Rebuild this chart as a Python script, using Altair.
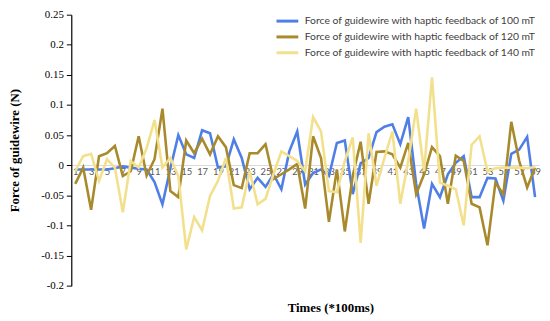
import altair as alt
import pandas as pd

times = list(range(1, 60))

force_100 = [-0.007, -0.007, -0.007, -0.007, -0.007, -0.005, -0.002, -0.004, -0.006, -0.007,
             -0.028, -0.065, -0.005, 0.05, 0.018, 0.012, 0.058, 0.053, -0.004, -0.002,
             0.043, 0.012, -0.04, -0.021, -0.036, -0.015, -0.04, 0.023, 0.056, -0.032,
             -0.013, -0.007, -0.018, 0.037, 0.041, -0.048, 0.003, 0.012, 0.055, 0.064,
             0.068, 0.035, 0.08, -0.031, -0.105, -0.031, -0.053, -0.015, 0.004, 0.015,
             -0.053, -0.053, -0.021, -0.022, -0.059, 0.019, 0.026, 0.047, -0.053]

force_120 = [-0.031, -0.004, -0.074, 0.015, 0.02, 0.032, -0.018, -0.01, 0.048, -0.017,
             0.01, 0.094, -0.043, -0.053, 0.041, 0.02, 0.044, 0.018, 0.048, 0.03,
             -0.033, -0.038, 0.02, 0.02, 0.035, -0.023, -0.015, -0.007, 0.002, -0.072,
             0.048, 0.012, -0.094, -0.007, -0.11, -0.018, 0.039, -0.064, 0.022, 0.023,
             0.018, -0.004, 0.037, -0.048, -0.015, 0.03, 0.015, -0.064, 0.016, 0.007,
             -0.064, -0.07, -0.133, -0.029, -0.048, 0.072, 0.007, -0.037, -0.004]

force_140 = [-0.01, 0.015, 0.019, -0.026, 0.01, -0.004, -0.078, 0.007, -0.004, 0.028,
             0.075, -0.004, 0.012, -0.018, -0.14, -0.086, -0.108, -0.051, -0.026, 0.012,
             -0.072, -0.07, -0.01, -0.065, -0.056, -0.015, 0.023, 0.015, 0.007, -0.01,
             0.08, 0.056, -0.043, -0.045, 0.007, 0.046, -0.129, 0.053, -0.034, 0.012,
             0.056, -0.064, 0.007, 0.094, -0.01, 0.146, -0.029, -0.034, -0.04, -0.1,
             0.034, 0.048, -0.01, -0.005, -0.004, -0.004, -0.004, -0.005, -0.003]

series_names = [
    "Force of guidewire with haptic feedback of 100 mT",
    "Force of guidewire with haptic feedback of 120 mT",
    "Force of guidewire with haptic feedback of 140 mT",
]
series_colors = ["#4F7FE6", "#A88A2C", "#F3E08C"]
x_ticks = list(range(1, 60, 2))
y_ticks = [-0.2, -0.15, -0.1, -0.05, 0, 0.05, 0.1, 0.15, 0.2, 0.25]

rows = []
for name, vals in zip(series_names, [force_100, force_120, force_140]):
    for t, v in zip(times, vals):
        rows.append({"t": t, "force": v, "series": name})
df = pd.DataFrame(rows)

chart = alt.Chart(df).mark_line(strokeWidth=2.6, strokeJoin="miter").encode(
    x=alt.X("t:Q",
            scale=alt.Scale(domain=[0.5, 59.5], nice=False, zero=False),
            axis=alt.Axis(values=x_ticks, title="Times (*100ms)", offset=-122,
                          grid=False, ticks=False, domainColor="#d9d9d9", domainWidth=1,
                          labelColor="#595959", labelFontSize=9.5, labelFont="Lato",
                          labelPadding=2, labelFlush=False, labelOverlap=False,
                          titleFont="Liberation Serif", titleFontSize=13, titleFontWeight="bold",
                          titleColor="#000000", titleX=262, titleY=144, titleAlign="center",
                          titleBaseline="middle")),
    y=alt.Y("force:Q",
            scale=alt.Scale(domain=[-0.2, 0.25], nice=False),
            axis=alt.Axis(values=y_ticks, title="Force of guidewire (N)", grid=False,
                          labelExpr="toString(round(datum.value*100)/100)",
                          domainColor="#000000", domainWidth=1.2, tickColor="#000000",
                          tickSize=5, labelPadding=3, labelFont="Liberation Serif",
                          labelFontSize=11, labelColor="#000000",
                          titleFont="Liberation Serif", titleFontSize=13, titleFontWeight="bold",
                          titleColor="#000000", titlePadding=19)),
    color=alt.Color("series:N",
                    scale=alt.Scale(domain=series_names, range=series_colors),
                    legend=alt.Legend(title=None, orient="none", legendX=213, legendY=1,
                                      symbolType="M-3,0H3", symbolSize=54, symbolStrokeWidth=3,
                                      labelFont="Lato", labelFontSize=10.5, labelColor="#404040",
                                      rowPadding=3, labelOffset=12, labelLimit=400)),
).properties(
    width=473, height=274,
    autosize=alt.AutoSizeParams(type="none"),
    padding={"left": 64, "top": 5, "right": 3, "bottom": 34},
).configure_view(stroke=None)

chart.save("out.html", embed_options={"renderer": "svg", "actions": False})
